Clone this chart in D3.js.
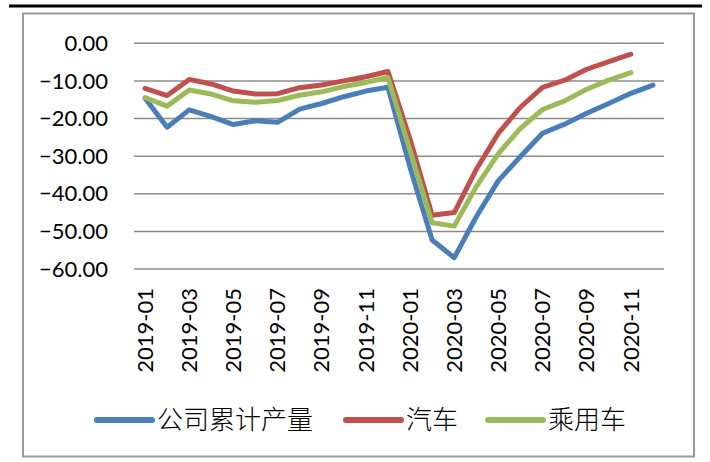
<!DOCTYPE html>
<html>
<head>
<meta charset="utf-8">
<script src="https://cdn.jsdelivr.net/npm/d3@7"></script>
<style>
  html, body { margin: 0; padding: 0; background: #fff; }
  svg { display: block; }
  .tick-label { font-family: Lato, "Noto Sans", sans-serif; font-size: 22px; fill: #000; }
  .legend-label { font-family: "Noto Sans CJK SC", sans-serif; font-size: 26px; font-weight: 300; fill: #000; }
</style>
</head>
<body>
<svg id="chart" width="710" height="462"></svg>
<script>
// ── DATA ────────────────────────────────────────────────────
const months = [
  '2019-01','2019-02','2019-03','2019-04','2019-05','2019-06',
  '2019-07','2019-08','2019-09','2019-10','2019-11','2019-12',
  '2020-01','2020-02','2020-03','2020-04','2020-05','2020-06',
  '2020-07','2020-08','2020-09','2020-10','2020-11','2020-12'
];
const yTicks = [0, -10, -20, -30, -40, -50, -60];

// 公司累计产量 (goes to 2020-12)
const companyOutput = [
  -14.6, -22.3, -17.7, -19.5, -21.6, -20.6, -21.0, -17.5, -16.0, -14.2, -12.7, -11.7,
  -33.0, -52.3, -57.0, -46.1, -36.5, -30.1, -23.9, -21.5, -18.6, -16.0, -13.3, -11.1
];
// 汽车 (ends at 2020-11)
const autos = [
  -12.0, -13.9, -9.6, -10.8, -12.7, -13.5, -13.4, -11.8, -11.1, -10.0, -8.9, -7.5,
  -25.5, -45.7, -45.0, -33.5, -23.9, -17.0, -11.7, -9.8, -6.9, -4.9, -2.9
];
// 乘用车 (ends at 2020-11)
const passengerCars = [
  -14.4, -16.7, -12.4, -13.5, -15.3, -15.7, -15.2, -13.8, -12.9, -11.5, -10.4, -9.1,
  -28.5, -47.7, -48.6, -38.1, -29.3, -22.6, -17.6, -15.3, -12.2, -9.8, -7.8
];

const seriesNames  = ['公司累计产量', '汽车', '乘用车'];
const seriesValues = [companyOutput, autos, passengerCars];
const seriesColors = ['#4A7EBB', '#C0504D', '#9BBB59'];

// ── SETUP ───────────────────────────────────────────────────
const svg = d3.select('#chart');

const x = d3.scaleBand().domain(months).range([134, 664]);
const y = d3.scaleLinear().domain([-60, 0]).range([269, 43.3]);

// top rule + outer frame
svg.append('line')
  .attr('x1', 9).attr('x2', 702).attr('y1', 6).attr('y2', 6)
  .attr('stroke', '#000').attr('stroke-width', 3);
svg.append('rect')
  .attr('x', 23).attr('y', 13.5).attr('width', 671).attr('height', 443)
  .attr('fill', 'none').attr('stroke', '#999').attr('stroke-width', 2);

// gridlines
svg.append('g').selectAll('line')
  .data(yTicks)
  .join('line')
  .attr('x1', 134).attr('x2', 664)
  .attr('y1', d => y(d)).attr('y2', d => y(d))
  .attr('stroke', '#8c8c8c').attr('stroke-width', 1.5);

// y labels
svg.append('g').selectAll('text')
  .data(yTicks)
  .join('text')
  .attr('class', 'tick-label')
  .attr('x', 108)
  .attr('y', d => y(d))
  .attr('dy', '0.35em')
  .attr('text-anchor', 'end')
  .text(d => d3.format('.2f')(d));

// x labels, every other month
svg.append('g').selectAll('text')
  .data(months.filter((m, i) => i % 2 === 0))
  .join('text')
  .attr('class', 'tick-label')
  .attr('transform', d => `translate(${x(d) + x.bandwidth() / 2},288) rotate(-90)`)
  .attr('dy', '0.35em')
  .attr('text-anchor', 'end')
  .text(d => d);

// ── LINES ───────────────────────────────────────────────────
const line = d3.line()
  .x((d, i) => x(months[i]) + x.bandwidth() / 2)
  .y(d => y(d));

svg.append('g').selectAll('path')
  .data(seriesValues)
  .join('path')
  .attr('d', d => line(d))
  .attr('fill', 'none')
  .attr('stroke', (d, i) => seriesColors[i])
  .attr('stroke-width', 5)
  .attr('stroke-linejoin', 'round')
  .attr('stroke-linecap', 'round');

// ── LEGEND ──────────────────────────────────────────────────
const legendX = [97, 346, 488];
const legend = svg.append('g').selectAll('g')
  .data(seriesNames)
  .join('g')
  .attr('transform', (d, i) => `translate(${legendX[i]},420)`);

legend.append('line')
  .attr('x1', 0).attr('x2', 55)
  .attr('stroke', (d, i) => seriesColors[i])
  .attr('stroke-width', 6)
  .attr('stroke-linecap', 'round');

legend.append('text')
  .attr('class', 'legend-label')
  .attr('x', 60)
  .attr('dy', '0.35em')
  .text(d => d);
</script>
</body>
</html>
